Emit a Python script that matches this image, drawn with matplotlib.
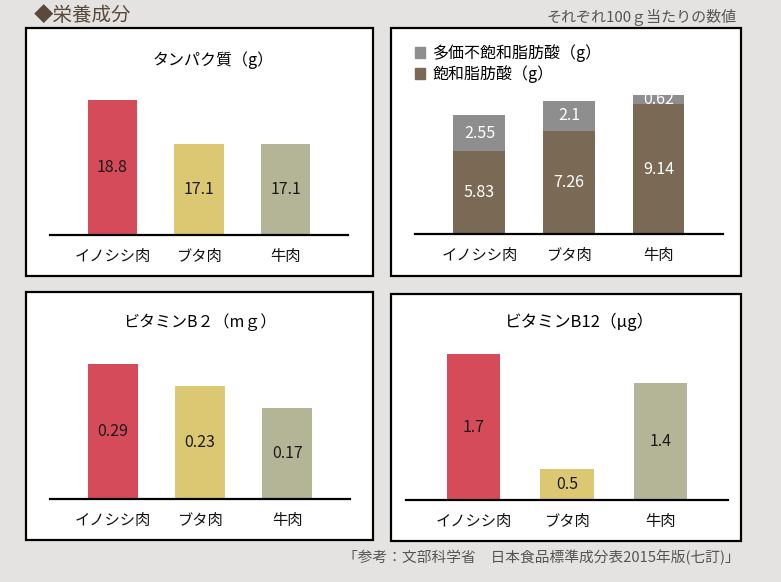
import matplotlib
matplotlib.use("Agg")
import matplotlib.pyplot as plt
from matplotlib.patches import Rectangle, Patch

plt.rcParams['font.family'] = ['Noto Sans CJK JP', 'DejaVu Sans']

# ---- data ----
categories = ["イノシシ肉", "ブタ肉", "牛肉"]
protein = [18.8, 17.1, 17.1]
saturated = [5.83, 7.26, 9.14]
polyunsat = [2.55, 2.1, 0.62]
vit_b2 = [0.29, 0.23, 0.17]
vit_b12 = [1.7, 0.5, 1.4]

title_protein = "タンパク質（g）"
title_b2 = "ビタミンB２（mｇ）"
title_b12 = "ビタミンB12（μg）"
legend_poly = "多価不飽和脂肪酸（g）"
legend_sat = "飽和脂肪酸（g）"
heading = "◆栄養成分"
note = "それぞれ100ｇ当たりの数値"
source = "「参考：文部科学省　日本食品標準成分表2015年版(七訂)」"

# ---- style ----
bg = "#e5e3e1"
bar_colors = ["#d64b5a", "#dcc873", "#b4b596"]
brown = "#7a6a55"
gray = "#8e8e8e"
W, H = 781, 582

fig = plt.figure(figsize=(W / 100, H / 100), dpi=100, facecolor=bg)


def fx(px):
    return px / W


def fy(py):
    return 1 - py / H


def panel(x0, y0, x1, y1):
    fig.patches.append(Rectangle((fx(x0), fy(y1)), fx(x1 - x0), (y1 - y0) / H,
                                 transform=fig.transFigure, facecolor="white",
                                 edgecolor="black", linewidth=1.6, zorder=-5))


def make_ax(l, r, base_py, top_py):
    ax = fig.add_axes([fx(l), fy(base_py), fx(r - l), (base_py - top_py) / H])
    ax.set_facecolor("none")
    for s in ["top", "left", "right"]:
        ax.spines[s].set_visible(False)
    ax.spines["bottom"].set_linewidth(1.6)
    ax.set_yticks([])
    ax.set_xticks(range(len(categories)))
    ax.set_xticklabels(categories, fontsize=11, color="#111")
    ax.tick_params(axis="x", length=0, pad=9.5)
    ax.set_xlim(-0.72, 2.72)
    return ax


def single(ax, values, base, ymax, fmt):
    xs = range(len(values))
    heights = [v - base for v in values]
    bars = ax.bar(xs, heights, bottom=base, width=0.57, color=bar_colors)
    ax.set_ylim(base, ymax)
    for b, v in zip(bars, values):
        ax.text(b.get_x() + b.get_width() / 2, base + (v - base) / 2, fmt(v),
                ha="center", va="center", fontsize=11.5, color="#1a1a1a")


# panels
panel(26, 28, 373, 276)
panel(391, 28, 741, 276)
panel(26, 292, 373, 540)
panel(391, 294, 741, 541)

# protein
ax1 = make_ax(50, 348, 235, 90)
single(ax1, protein, 13.6, 13.6 + 145 / 25.9, lambda v: f"{v:g}")
fig.text(fx(213), fy(60), title_protein, ha="center", va="center", fontsize=11.5)

# fats (stacked)
ax2 = make_ax(415, 723, 234, 85)
xs = range(len(categories))
b_sat = ax2.bar(xs, saturated, width=0.58, color=brown, label=legend_sat)
b_poly = ax2.bar(xs, polyunsat, bottom=saturated, width=0.58, color=gray,
                 label=legend_poly)
ax2.set_ylim(0, 149 / 14.2)
for i in xs:
    ax2.text(i, saturated[i] / 2, f"{saturated[i]:g}", ha="center", va="center",
             fontsize=11.5, color="white")
    ax2.text(i, saturated[i] + polyunsat[i] / 2, f"{polyunsat[i]:g}",
             ha="center", va="center", fontsize=11.5, color="white")
fig.legend(handles=[Patch(color=gray, label=legend_poly),
                    Patch(color=brown, label=legend_sat)],
           loc="upper left", bbox_to_anchor=(fx(409), fy(38)), frameon=False,
           fontsize=11.5, handlelength=0.6, handleheight=0.6, handletextpad=0.5,
           labelspacing=0.2, borderaxespad=0)

# vitamin B2
ax3 = make_ax(50, 350, 499, 350)
single(ax3, vit_b2, -0.08, -0.08 + 149 / 365, lambda v: f"{v:.2f}")
fig.text(fx(200), fy(322), title_b2, ha="center", va="center", fontsize=11.5)

# vitamin B12
ax4 = make_ax(406, 728, 500, 340)
single(ax4, vit_b12, 0.18, 0.18 + 160 / 95.8, lambda v: f"{v:g}")
fig.text(fx(580), fy(322), title_b12, ha="center", va="center", fontsize=12)

# header / footer texts
fig.text(fx(34), fy(15), heading, ha="left", va="center", fontsize=14,
         color="#5a4a3c")
fig.text(fx(737), fy(17), note, ha="right", va="center", fontsize=10.8,
         color="#555555")
fig.text(fx(740), fy(557), source, ha="right", va="center", fontsize=10.6,
         color="#555555")

fig.savefig("out.png", dpi=100, facecolor=bg)
